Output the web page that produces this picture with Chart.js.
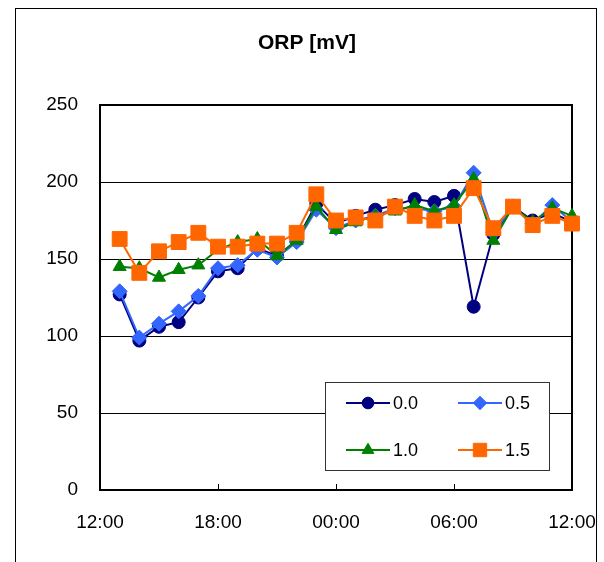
<!DOCTYPE html>
<html lang="en">
<head>
<meta charset="UTF-8">
<title>ORP [mV]</title>
<script src="https://cdn.jsdelivr.net/npm/chart.js"></script>
<style>
  body { margin: 0; background: #fff; }
  #wrap { width: 604px; height: 562px; }
</style>
</head>
<body>
<div id="wrap"><canvas id="orpChart"></canvas></div>
<script>
// hours since 00:00 of the first day (13 = 13:00, 36 = 12:00 next day)
const hours = [13, 14, 15, 16, 17, 18, 19, 20, 21, 22, 23, 24, 25, 26, 27, 28, 29, 30, 31, 32, 33, 34, 35, 36];
const tickLabels = ['12:00', '18:00', '00:00', '06:00', '12:00'];
const seriesNames = ['0.0', '0.5', '1.0', '1.5'];

const orp00 = [127, 97, 106, 109, 125, 142, 144, 157, 152, 162, 186, 173, 178, 182, 185, 189, 187, 191, 119, 166, 184, 175, 180, 174];
const orp05 = [129, 99, 108, 116, 126, 144, 146, 156, 151, 161, 182, 170, 175, 178, 183, 183, 181, 184, 206, 167, 184, 173, 185, 174];
const orp10 = [145, 144, 138, 143, 146, 156, 161, 163, 152, 162, 184, 169, 174, 178, 181, 185, 181, 185, 202, 162, 184, 174, 183, 178];
const orp15 = [163, 141, 155, 161, 167, 158, 158, 160, 160, 167, 192, 175, 177, 175, 184, 178, 175, 178, 196, 170, 184, 172, 178, 173];

const FONT = "'Liberation Sans', Arial, sans-serif";
Chart.defaults.font.family = FONT;
Chart.defaults.color = '#000';

function series(label, values, color, style, radius, order) {
    return {
        label: label,
        data: hours.map((h, i) => ({ x: h, y: values[i] })),
        borderColor: color,
        backgroundColor: color,
        pointBackgroundColor: color,
        pointBorderColor: color,
        pointStyle: style,
        pointRadius: radius,
        pointBorderWidth: 1,
        borderWidth: 2,
        tension: 0,
        clip: false,
        order: order
    };
}

// frame, plot border, inner tick marks, title and the boxed legend
const decor = {
    id: 'decor',
    beforeDraw(chart) {
        const ctx = chart.ctx;
        ctx.save();
        ctx.fillStyle = '#fff';
        ctx.fillRect(0, 0, chart.width, chart.height);
        ctx.strokeStyle = '#000';
        ctx.lineWidth = 1;
        ctx.strokeRect(15.5, 8.5, 581, 600);
        ctx.restore();
    },
    beforeDatasetsDraw(chart) {
        const ctx = chart.ctx;
        const a = chart.chartArea;
        const x = chart.scales.x;
        ctx.save();
        ctx.strokeStyle = '#000';
        ctx.lineWidth = 1;
        [18, 24, 30].forEach(v => {
            const px = Math.round(x.getPixelForValue(v)) + 0.5;
            ctx.beginPath();
            ctx.moveTo(px, a.bottom);
            ctx.lineTo(px, a.bottom - 6);
            ctx.stroke();
        });
        ctx.lineWidth = 2;
        ctx.strokeRect(a.left, a.top, a.right - a.left, a.bottom - a.top);
        ctx.restore();
    },
    afterDraw(chart) {
        const ctx = chart.ctx;
        ctx.save();
        ctx.fillStyle = '#000';
        ctx.font = 'bold 21px ' + FONT;
        ctx.textAlign = 'center';
        ctx.textBaseline = 'middle';
        ctx.fillText('ORP [mV]', 307, 43);

        // legend box
        ctx.fillStyle = '#fff';
        ctx.fillRect(325, 382, 224, 88);
        ctx.strokeStyle = '#333';
        ctx.lineWidth = 1;
        ctx.strokeRect(325.5, 382.5, 224, 88);

        const cols = [346, 458];
        const rows = [403, 450];
        chart.data.datasets.forEach((ds, i) => {
            const lx = cols[i % 2];
            const ly = rows[Math.floor(i / 2)];
            ctx.strokeStyle = ds.borderColor;
            ctx.lineWidth = 2;
            ctx.beginPath();
            ctx.moveTo(lx, ly);
            ctx.lineTo(lx + 44, ly);
            ctx.stroke();
            ctx.fillStyle = ds.pointBackgroundColor;
            ctx.strokeStyle = ds.pointBorderColor;
            ctx.lineWidth = 1;
            Chart.helpers.drawPoint(ctx, {
                pointStyle: ds.pointStyle,
                radius: ds.pointRadius * 0.9,
                rotation: 0,
                borderWidth: 1
            }, lx + 22, ly);
            ctx.fillStyle = '#000';
            ctx.font = '18px ' + FONT;
            ctx.textAlign = 'left';
            ctx.textBaseline = 'middle';
            ctx.fillText(ds.label, lx + 47, ly + 1);
        });
        ctx.restore();
    }
};

const ctx = document.getElementById('orpChart').getContext('2d');
new Chart(ctx, {
    type: 'line',
    data: {
        datasets: [
            series(seriesNames[0], orp00, '#000080', 'circle', 6.5, 3),
            series(seriesNames[1], orp05, '#3366FF', 'rectRot', 7.5, 2),
            series(seriesNames[2], orp10, '#008000', 'triangle', 7.5, 1),
            series(seriesNames[3], orp15, '#FF6600', 'rect', 10.5, 0)
        ]
    },
    options: {
        responsive: true,
        maintainAspectRatio: false,
        animation: false,
        layout: { padding: { left: 15, top: 105, right: 32, bottom: 0 } },
        plugins: {
            legend: { display: false },
            title: { display: false },
            tooltip: { enabled: false }
        },
        scales: {
            x: {
                type: 'linear',
                min: 12,
                max: 36,
                afterFit: s => { s.height = 72; s.paddingLeft = 0; s.paddingRight = 0; },
                afterBuildTicks: s => { s.ticks = [12, 18, 24, 30, 36].map(v => ({ value: v })); },
                ticks: {
                    callback: v => tickLabels[(v - 12) / 6],
                    font: { size: 19 },
                    padding: 13,
                    maxRotation: 0
                },
                grid: { display: false },
                border: { display: false }
            },
            y: {
                min: 0,
                max: 250,
                afterFit: s => { s.width = 85; s.paddingTop = 0; s.paddingBottom = 0; },
                ticks: {
                    stepSize: 50,
                    font: { size: 19 },
                    padding: 22
                },
                grid: { color: '#000', lineWidth: 1, drawTicks: false },
                border: { display: false }
            }
        }
    },
    plugins: [decor]
});
</script>
</body>
</html>
